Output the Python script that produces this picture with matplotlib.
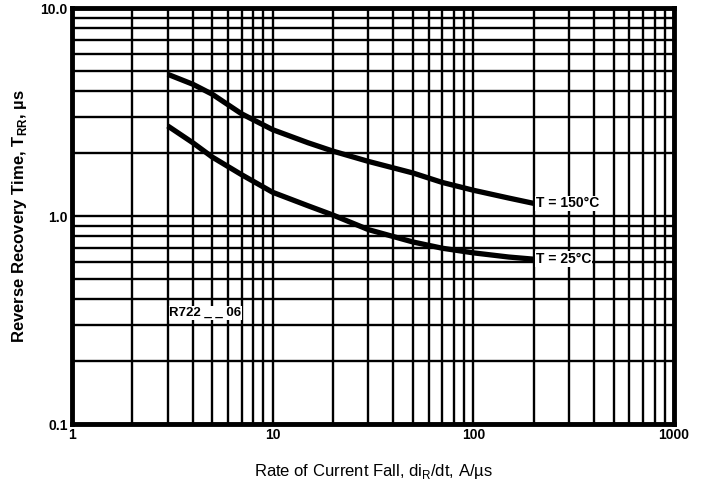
import matplotlib
matplotlib.use("Agg")
import matplotlib.pyplot as plt
from matplotlib.ticker import LogLocator, FixedLocator, NullFormatter

plt.rcParams['font.family'] = ['Liberation Sans', 'DejaVu Sans']

# Data
rate_150 = [3, 4, 5, 7, 10, 15, 20, 30, 50, 70, 100, 150, 200]
trr_150 = [4.8, 4.3, 3.85, 3.1, 2.6, 2.25, 2.05, 1.83, 1.61, 1.45, 1.33, 1.22, 1.15]
rate_25 = [3, 4, 5, 7, 10, 15, 20, 30, 50, 70, 100, 150, 200]
trr_25 = [2.71, 2.25, 1.92, 1.58, 1.30, 1.12, 1.01, 0.86, 0.75, 0.70, 0.665, 0.635, 0.62]

x_ticks = [1, 10, 100, 1000]
x_tick_labels = ["1", "10", "100", "1000"]
y_ticks = [0.1, 1.0, 10.0]
y_tick_labels = ["0.1", "1.0", "10.0"]

fig = plt.figure(figsize=(7.02, 4.88), dpi=100)
ax = fig.add_axes([72/702, (488-424)/488, (674-72)/702, (424-8)/488])

ax.set_xscale('log')
ax.set_yscale('log')
ax.set_xlim(1, 1000)
ax.set_ylim(0.1, 10)

ax.xaxis.set_major_locator(FixedLocator(x_ticks))
ax.yaxis.set_major_locator(FixedLocator(y_ticks))
ax.xaxis.set_minor_locator(LogLocator(base=10, subs=range(2, 10)))
ax.yaxis.set_minor_locator(LogLocator(base=10, subs=range(2, 10)))
ax.xaxis.set_minor_formatter(NullFormatter())
ax.yaxis.set_minor_formatter(NullFormatter())
ax.set_xticklabels(x_tick_labels)
ax.set_yticklabels(y_tick_labels)

ax.grid(True, which='both', color='black', linewidth=1.7)
ax.tick_params(which='both', length=0, labelsize=10, pad=3)
for lbl in ax.get_xticklabels() + ax.get_yticklabels():
    lbl.set_fontweight('bold')
for s in ax.spines.values():
    s.set_linewidth(3.5)
    s.set_color('black')
ax.set_axisbelow(True)

ax.plot(rate_150, trr_150, color='black', linewidth=3.8, solid_capstyle='butt',
        solid_joinstyle='round', zorder=3)
ax.plot(rate_25, trr_25, color='black', linewidth=3.8, solid_capstyle='butt',
        solid_joinstyle='round', zorder=3)

bbox = dict(facecolor='white', edgecolor='none', pad=0.5)
ax.text(205, 1.15, "T = 150°C", fontsize=10, fontweight='bold', va='center', ha='left',
        bbox=bbox, zorder=4)
ax.text(205, 0.62, "T = 25°C", fontsize=10, fontweight='bold', va='center', ha='left',
        bbox=bbox, zorder=4)
ax.text(3.05, 0.342, "R722 _ _ 06", fontsize=9.5, fontweight='bold', va='center', ha='left',
        bbox=bbox, zorder=4)

ax.set_ylabel(r"Reverse Recovery Time, T$_{\mathregular{RR}}$, µs", fontsize=12,
              fontweight='bold', labelpad=8)
ax.set_xlabel(r"Rate of Current Fall, di$_{\mathregular{R}}$/dt, A/µs", fontsize=12,
              labelpad=14)

fig.savefig("out.png", dpi=100)
